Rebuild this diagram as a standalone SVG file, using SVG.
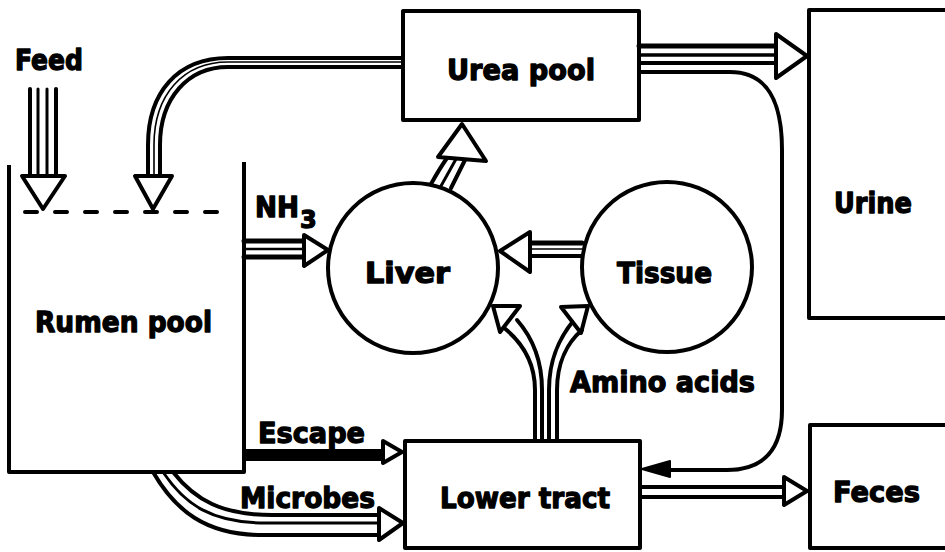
<svg xmlns="http://www.w3.org/2000/svg" width="945" height="552" viewBox="0 0 945 552">
<style>
.box{fill:none;stroke:#000;stroke-width:4;stroke-linejoin:round}
.ln{fill:none;stroke:#000;stroke-width:4;stroke-linecap:round;stroke-linejoin:round}
.th{fill:none;stroke:#000;stroke-width:1.6;stroke-linecap:round}
.hd{fill:#fff;stroke:#000;stroke-width:4;stroke-linejoin:round}
.fh{fill:#000;stroke:#000;stroke-width:2;stroke-linejoin:round}
text{font-family:"DejaVu Sans","Liberation Sans",sans-serif;font-weight:bold;font-size:28px;fill:#000;stroke:#000;stroke-width:1.3;stroke-linejoin:round}
</style>
<rect width="945" height="552" fill="#fff"/>

<g id="feed">
  <text x="15" y="70" textLength="68" lengthAdjust="spacingAndGlyphs">Feed</text>
</g>

<g id="rumen-pool">
  <path class="box" d="M9,165 V472 H244 V162"/>
  <line class="ln" x1="25" y1="212" x2="225" y2="212" stroke-dasharray="12 18" stroke-linecap="butt"/>
  <text x="35" y="332" textLength="177" lengthAdjust="spacingAndGlyphs">Rumen pool</text>
</g>

<g id="urea-pool">
  <rect class="box" x="403" y="11" width="236" height="109"/>
  <text x="447" y="80" textLength="148" lengthAdjust="spacingAndGlyphs">Urea pool</text>
</g>

<g id="urine">
  <rect class="box" x="809" y="10" width="150" height="308"/>
  <text x="834" y="213" textLength="78" lengthAdjust="spacingAndGlyphs">Urine</text>
</g>

<g id="liver">
  <circle class="box" cx="413" cy="268" r="85"/>
  <text x="365" y="283" textLength="85" lengthAdjust="spacingAndGlyphs">Liver</text>
</g>

<g id="tissue">
  <circle class="box" cx="667" cy="267" r="85"/>
  <text x="617" y="283" textLength="95" lengthAdjust="spacingAndGlyphs">Tissue</text>
</g>

<g id="lower-tract">
  <rect class="box" x="405" y="441" width="235" height="107"/>
  <text x="440" y="508" textLength="170" lengthAdjust="spacingAndGlyphs">Lower tract</text>
</g>

<g id="feces">
  <rect class="box" x="810" y="425" width="150" height="123"/>
  <text x="833" y="502" textLength="87" lengthAdjust="spacingAndGlyphs">Feces</text>
</g>

<g id="labels">
  <text x="255" y="217" textLength="44" lengthAdjust="spacingAndGlyphs">NH</text>
  <text x="300" y="228" style="font-size:24px">3</text>
  <text x="258" y="443" textLength="107" lengthAdjust="spacingAndGlyphs">Escape</text>
  <text x="240" y="508" textLength="135" lengthAdjust="spacingAndGlyphs">Microbes</text>
  <text x="570" y="392" textLength="185" lengthAdjust="spacingAndGlyphs">Amino acids</text>
</g>

<g id="connectors">
  <g id="feed-arrow">
    <line class="ln" x1="30" y1="89" x2="30" y2="176"/>
    <line class="th" x1="38" y1="89" x2="38" y2="176" style="stroke-width:3"/>
    <line class="th" x1="47" y1="89" x2="47" y2="176" style="stroke-width:3"/>
    <line class="ln" x1="56" y1="89" x2="56" y2="176"/>
    <polygon class="hd" points="22,176 65,176 43,209"/>
  </g>
  <g id="urea-to-rumen">
    <path class="ln" d="M403,58 H228 C178,58 148,92 148,145 V176"/>
    <path class="th" d="M403,62 H228 C183,62 154,95 154,145 V176"/>
    <path class="ln" d="M403,67 H228 C188,67 160,98 160,145 V176"/>
    <polygon class="hd" points="135,176 172,176 153,209"/>
  </g>
  <g id="nh3-arrow">
    <line class="ln" x1="244" y1="241" x2="304" y2="241" style="stroke-width:5"/>
    <line class="th" x1="244" y1="249" x2="304" y2="249" style="stroke-width:2.5"/>
    <line class="ln" x1="244" y1="257" x2="304" y2="257" style="stroke-width:5"/>
    <polygon class="hd" points="304,235 328,250 304,266"/>
  </g>
  <g id="liver-to-urea">
    <path class="ln" d="M431,184 Q440,168 447,158"/>
    <path class="ln" d="M441,186 Q450,170 456,159" style="stroke-width:3"/>
    <path class="ln" d="M451,188 Q459,172 465,160"/>
    <polygon class="hd" points="438,157 462,124 486,161"/>
  </g>
  <g id="tissue-to-liver">
    <line class="ln" x1="530" y1="243" x2="582" y2="243" style="stroke-width:5"/>
    <line class="th" x1="530" y1="249" x2="582" y2="249"/>
    <line class="ln" x1="530" y1="256" x2="582" y2="256"/>
    <polygon class="hd" points="530,232 500,251 530,272"/>
  </g>
  <g id="urea-to-urine">
    <line class="ln" x1="639" y1="46" x2="776" y2="46" style="stroke-width:5"/>
    <line class="th" x1="639" y1="55" x2="776" y2="55" style="stroke-width:3.5"/>
    <line class="ln" x1="639" y1="63" x2="776" y2="63"/>
    <polygon class="hd" points="776,34 807,56 776,78"/>
  </g>
  <g id="urea-to-lower-tract">
    <path class="ln" d="M639,72 H730 C768,72 782,102 782,150 V410 C782,448 765,470 727,470 H668"/>
    <polygon class="fh" points="670,461 642,469 670,477"/>
  </g>
  <g id="escape-arrow">
    <rect x="244" y="449" width="139" height="12" fill="#000"/>
    <polygon class="hd" points="383,441 402,452 383,463"/>
  </g>
  <g id="microbes-arrow">
    <path class="ln" d="M153,472 C175,510 205,535 262,535 H379"/>
    <path class="th" d="M163,472 C185,505 212,523 266,523 H379" style="stroke-width:3"/>
    <path class="ln" d="M173,472 C195,500 222,515 272,515 H379"/>
    <polygon class="hd" points="379,508 403,523 379,540"/>
  </g>
  <g id="feces-arrow">
    <line class="ln" x1="640" y1="487" x2="784" y2="487"/>
    <line class="ln" x1="640" y1="497" x2="784" y2="497"/>
    <polygon class="hd" points="784,477 807,491 784,505"/>
  </g>
  <g id="amino-acids-arrows">
    <path class="ln" d="M535,440 V390 C535,362 522,342 503,327"/>
    <path class="ln" d="M542,440 V390 C542,358 532,337 517,320"/>
    <path class="ln" d="M549,440 V390 C549,358 560,337 574,320"/>
    <path class="ln" d="M557,440 V390 C557,362 568,342 582,330"/>
    <polygon class="hd" points="493,306 520,306 500,332"/>
    <polygon class="hd" points="588,306 561,307 581,333"/>
  </g>
</g>
</svg>
